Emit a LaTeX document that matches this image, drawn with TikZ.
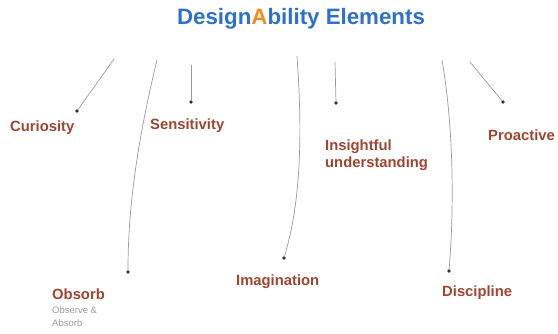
\documentclass[tikz,border=0pt]{standalone}
\usepackage{fontspec}
\setmainfont{Liberation Sans}
\definecolor{titleblue}{HTML}{2F70C8}
\definecolor{accent}{HTML}{F08A24}
\definecolor{labelred}{HTML}{9E4530}
\definecolor{leader}{HTML}{9A9A9A}
\definecolor{subgrey}{HTML}{9C9C9C}
\begin{document}
\begin{tikzpicture}[x=1pt,y=-1pt,
  label/.style={anchor=west,inner sep=0pt,text=labelred,font=\fontsize{14.8}{16.5}\selectfont\bfseries,align=left},
  sublabel/.style={anchor=west,inner sep=0pt,text=subgrey,font=\fontsize{9.5}{12.5}\selectfont,align=left},
  tipdot/.style={circle,fill=black!80,inner sep=0pt,minimum size=3.6pt},
  leaderline/.style={draw=leader,line width=0.7pt}]
\useasboundingbox (0,0) rectangle (558,333);

% heading
\node[inner sep=0pt,text=titleblue,font=\fontsize{22.3}{25}\selectfont\bfseries] (title) at (301,19)
  {Design{\color{accent}A}bility Elements};

% element labels
\node[label] (curiosity) at (10,128) {Curiosity};
\node[label] (sensitivity) at (150,126) {Sensitivity};
\node[label] (insight) at (325,155) {Insightful\\understanding};
\node[label] (proactive) at (488,135) {Proactive};
\node[label] (obsorb) at (52,294) {Obsorb};
\node[sublabel] (obsorbsub) at (52,316.5) {Observe \&\\Absorb};
\node[label] (imagination) at (236,282) {Imagination};
\node[label] (discipline) at (442,293) {Discipline};

% leader start points
\coordinate (s1) at (114,59);
\coordinate (s2) at (157,60);
\coordinate (s3) at (191,65);
\coordinate (s4) at (297,56);
\coordinate (s5) at (335,62);
\coordinate (s6) at (442,60);
\coordinate (s7) at (470,62);

% leader end dots
\node[tipdot] (d1) at (77,111) {};
\node[tipdot] (d2) at (128,272) {};
\node[tipdot] (d3) at (191,102) {};
\node[tipdot] (d4) at (284,258) {};
\node[tipdot] (d5) at (336,103) {};
\node[tipdot] (d6) at (449,271) {};
\node[tipdot] (d7) at (503,102) {};

% leader lines
\draw[leaderline] (s1) -- (d1);
\draw[leaderline] (s2) .. controls (140,130) and (128,200) .. (d2);
\draw[leaderline] (s3) -- (d3);
\draw[leaderline] (s4) .. controls (303,140) and (300,205) .. (d4);
\draw[leaderline] (s5) -- (d5);
\draw[leaderline] (s6) .. controls (454,130) and (454,210) .. (d6);
\draw[leaderline] (s7) -- (d7);
\end{tikzpicture}
\end{document}
